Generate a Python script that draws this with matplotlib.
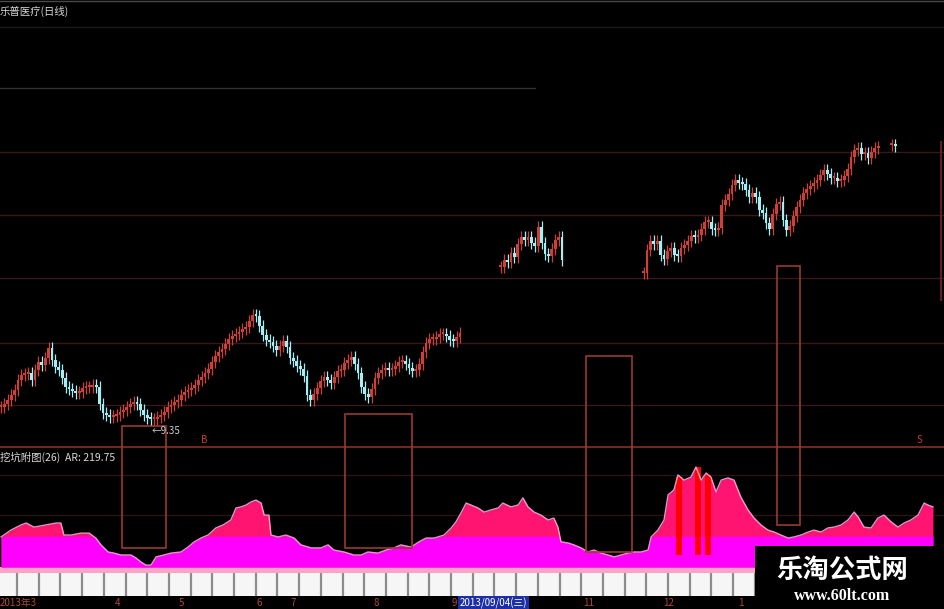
import numpy as np
import matplotlib
matplotlib.use("Agg")
import matplotlib.pyplot as plt
import matplotlib.transforms as mtransforms
from matplotlib.patches import Rectangle

plt.rcParams['font.family'] = ['Noto Sans CJK SC', 'DejaVu Sans']

nan = np.nan

# daily closes (trading day index 0..263), gaps where the screenshot shows nothing
closes = [
    10.25, 10.4, 10.6, 10.85, 11.1, 11.6, 11.85, 11.9, 11.95, 11.6,
    12.1, 12.5, 12.35, 12.7, 13.2, 12.6, 12.25, 12.1, 11.7, 11.25,
    11.15, 11.05, 10.95, 11.0, 11.2, 11.25, 11.25, 11.35, 11.25, 10.4,
    9.95, 9.85, 9.75, 9.8, 9.85, 10.0, 10.1, 10.25, 10.4, 10.5,
    10.4, 10.1, 9.85, 9.7, 9.65, 9.65, 9.75, 9.85, 10.0, 10.25,
    10.35, 10.5, 10.6, 10.85, 11.0, 11.1, 11.2, 11.35, 11.6, 11.75,
    11.95, 12.15, 12.5, 12.8, 13.0, 13.15, 13.4, 13.65, 13.8, 13.9,
    14.0, 14.15, 14.25, 14.55, 14.85, 14.8, 14.3, 13.85, 13.6, 13.5,
    13.3, 13.1, 13.3, 13.55, 13.25, 12.7, 12.55, 12.3, 12.15, 11.8,
    10.85, 10.6, 10.9, 11.2, 11.55, 11.75, 11.6, 11.45, 11.75, 12.05,
    12.1, 12.45, 12.6, 12.75, 12.4, 11.95, 11.25, 10.9, 10.75, 11.15,
    11.7, 11.95, 12.1, 12.2, 12.1, 12.15, 12.3, 12.5, 12.55, 12.4,
    12.2, 12.05, 12.1, 12.4, 13.0, 13.45, 13.65, 13.65, 13.75, 13.9,
    13.9, 13.8, 13.6, 13.55, 13.75, 13.95,
    nan, nan, nan, nan, nan, nan, nan, nan, nan, nan, nan,
    17.25, 17.6, 17.5, 17.95, 17.75, 18.4, 18.75, 18.6, 18.75, 18.45,
    18.3, 19.25, 18.45, 17.9, 17.8, 18.15, 18.6, 18.75, 17.6,
    nan, nan, nan, nan, nan, nan, nan, nan, nan, nan, nan, nan,
    nan, nan, nan, nan, nan, nan, nan, nan, nan, nan, nan,
    16.95, 18.1, 18.55, 18.4, 18.55, 17.85, 17.65, 18.05, 18.2, 17.85,
    17.8, 18.2, 18.35, 18.55, 18.8, 18.75, 18.85, 19.15, 19.5, 19.5,
    19.15, 19.1, 19.2, 20.35, 20.6, 20.9, 21.35, 21.6, 21.45, 21.4,
    21.1, 20.75, 20.95, 20.75, 20.1, 19.95, 19.45, 19.15, 19.9, 20.4,
    20.5, 19.6, 19.1, 19.3, 19.8, 20.25, 20.6, 20.95, 21.15, 21.3,
    21.45, 21.6, 21.85, 22.1, 21.9, 21.7, 21.7, 21.55, 21.6, 21.8,
    22.15, 22.75, 23.1, 23.2, 22.9, 22.95, 22.7, 23.0, 23.2, 23.25,
    nan, nan, nan,
    23.35, 23.3,
]

# AR indicator (sub panel), sampled along the trading-day axis
ar_days = [0, 2.9, 5.9, 7.4, 9.7, 13.2, 16.2, 17.6, 18.5, 20.6,
           23.5, 25.9, 27.9, 29.4, 31.5, 33.2, 35.3, 38.2, 39.7, 41.2,
           42.6, 44.1, 45.6, 47.9, 50.0, 52.9, 55.0, 56.8, 58.8, 60.9,
           63.2, 65.3, 67.6, 69.1, 70.6, 72.1, 73.5, 75.0, 76.5, 77.4,
           78.8, 79.4, 81.5, 83.8, 86.2, 88.2, 91.2, 94.1, 96.2, 97.9,
           100.9, 103.8, 105.9, 107.9, 110.9, 113.2, 115.6, 117.6, 120.6, 122.9,
           125.0, 127.4, 130.3, 132.4, 133.8, 135.3, 136.8, 138.2, 140.3, 142.1,
           144.1, 146.2, 147.6, 150.0, 152.1, 153.5, 155.0, 156.8, 158.8, 160.9,
           162.6, 163.8, 164.7, 166.8, 168.5, 170.6, 172.6, 174.4, 176.5, 178.5,
           180.3, 182.4, 184.4, 186.2, 188.2, 190.3, 191.2, 193.2, 195.0, 196.2,
           197.9, 199.1, 200.9, 202.9, 204.4, 205.9, 207.4, 208.8, 210.3, 211.8,
           213.8, 215.6, 217.6, 219.7, 221.5, 223.5, 225.6, 227.4, 229.4, 231.5,
           233.2, 235.3, 237.4, 239.1, 241.2, 243.2, 245.0, 247.1, 249.1, 250.9,
           252.1, 253.8, 255.9, 257.9, 259.7, 261.8, 263.8, 265.6, 267.6, 269.7,
           271.5, 272.6, 274.1]
ar_vals = [110, 135, 154, 161, 146, 154, 161, 161, 117, 117,
           124, 124, 106, 81, 55, 51, 44, 44, 33, 18,
           7, 7, 37, 44, 51, 55, 73, 92, 106, 117,
           143, 154, 172, 216, 220, 227, 238, 245, 234, 190,
           190, 117, 110, 117, 106, 81, 70, 70, 81, 62,
           55, 44, 44, 55, 51, 62, 70, 81, 73, 92,
           106, 106, 117, 143, 165, 198, 234, 227, 216, 201,
           209, 216, 234, 220, 227, 253, 220, 201, 190, 172,
           179, 146, 92, 88, 81, 70, 55, 62, 51, 44,
           37, 44, 51, 55, 55, 62, 110, 135, 172, 264,
           282, 337, 318, 329, 366, 318, 344, 329, 275, 318,
           326, 318, 256, 209, 179, 154, 135, 128, 117, 106,
           110, 117, 128, 135, 128, 143, 146, 154, 172, 201,
           183, 146, 143, 179, 190, 165, 146, 161, 172, 190,
           234, 227, 220]
ar_threshold = 113
ar_last = 219.75

red_days = [199.4, 205.0, 208.0]
red_tops = [329, 366, 337]
red_bottom = 44

# user-drawn zones: (day from, day to, price low, price high)
zone_boxes = [(35.6, 48.5, 3.2, 9.3), (101.2, 120.9, 3.2, 9.9),
              (172.0, 185.6, 3.0, 12.8), (228.2, 235.0, 4.35, 17.3)]
signals = [(59.7, 'B'), (270.0, 'S')]

month_days = [34.4, 52.9, 75.9, 85.9, 110.3, 133.2, 172.9, 196.2, 217.6]
month_labels = ['4', '5', '6', '7', '8', '9', '11', '12', '1']
first_label = '2013年3'
cursor_day = 144.8
cursor_label = '2013/09/04(三)'

UP = '#cc4038'
DOWN = '#a6eef4'
WICK = 0.3

fig = plt.figure(figsize=(9.45, 6.09), dpi=100, facecolor='black')

# background frame in pixel units
bg = fig.add_axes([0, 0, 1, 1])
bg.set_xlim(0, 945)
bg.set_ylim(609, 0)
bg.set_facecolor('black')
bg.axis('off')
bg.axhline(0.8, color='#4a4a4a', lw=1)
bg.axhline(27, color='#1a1a1a', lw=1)
bg.plot([0, 535], [88, 88], color='#333333', lw=1)
for gy in [152, 215, 278, 343, 405]:
    bg.axhline(gy, color='#361818', lw=1)
bg.axhline(447, color='#7c2c24', lw=1.3)
for gy in [475, 515]:
    bg.axhline(gy, color='#2a1414', lw=1)
bg.plot([941, 941], [142, 300], color='#5a1e1e', lw=1.5)
bg.add_patch(Rectangle((0, 567), 945, 6, color='#ffa4c4', lw=0))
bg.add_patch(Rectangle((0, 573), 945, 23, color='#f6f6f6', lw=0))
bg.vlines(np.arange(17, 945, 21.7), 573, 596, color='#8c8c8c', lw=1.6)
bg.text(0, 11, '乐普医疗(日线)', color='#d8d8d8', fontsize=7.5, va='center', ha='left')
bg.text(0, 457, '挖坑附图(26)  AR: %.2f' % ar_last, color='#d8d8d8', fontsize=7.5,
        va='center', ha='left')

# price panel
ax = fig.add_axes([0, 162 / 609, 1, 447 / 609])
ax.set_zorder(3)
ax.set_facecolor('none')
ax.axis('off')
ax.set_xlim(-0.3, 277.64)
ax.set_ylim(8.25, 30.6)

c = np.array(closes, dtype=float)
days = np.arange(len(c))
o = np.concatenate([[nan], c[:-1]])
o = np.where(np.isnan(o), c, o)
hi = np.maximum(o, c) + WICK
lo = np.minimum(o, c) - WICK
ok = ~np.isnan(c)
cols = np.where(c >= o, UP, DOWN)
body = np.maximum(np.abs(c - o), 0.1)
ax.vlines(days[ok], lo[ok], hi[ok], colors=cols[ok], lw=0.9)
ax.bar(days[ok], body[ok], bottom=np.minimum(o, c)[ok], width=0.8, color=cols[ok], lw=0)

low_day = int(np.nanargmin(lo))
ax.annotate('←%.2f' % lo[low_day], xy=(low_day, lo[low_day]), xytext=(1, -4),
            textcoords='offset points', color='#cfcfcf', fontsize=7, va='center', ha='left')

for d0, d1, p0, p1 in zone_boxes:
    ax.add_patch(Rectangle((d0, p0), d1 - d0, p1 - p0, fill=False, ec='#983a30',
                           lw=1.2, clip_on=False))
for sd, st in signals:
    ax.text(sd, 8.6, st, color='#c83a30', fontsize=7, ha='center', va='center')

# indicator panel: pink above the threshold, magenta below it
ai = fig.add_axes([0, 42 / 609, 1, 120 / 609])
ai.set_zorder(2)
ai.set_facecolor('none')
ai.axis('off')
ai.set_xlim(-0.3, 277.64)
ai.set_ylim(0, 439.2)
ad = np.array(ar_days)
av = np.array(ar_vals, dtype=float)
ai.fill_between(ad, 0, av, color='#ff1472', lw=0)
ai.fill_between(ad, 0, np.minimum(av, ar_threshold), color='#ff00ff', lw=0)
ai.plot(ad, av, color='#ffb4e4', lw=1.0, alpha=0.85)
ai.bar(red_days, np.array(red_tops) - red_bottom, bottom=red_bottom, width=1.7,
       color='#ff0000', lw=0)

# date labels under the cells
trans = mtransforms.blended_transform_factory(ax.transData, bg.transData)
bg.text(0, 603, first_label, color='#b04a35', fontsize=7, ha='left', va='center')
for md, ml in zip(month_days, month_labels):
    bg.text(md, 603, ml, transform=trans, color='#b04a35', fontsize=7,
            ha='center', va='center')
bg.text(cursor_day, 603, cursor_label, transform=trans, color='white', fontsize=7,
        ha='center', va='center',
        bbox=dict(boxstyle='square,pad=0.15', fc='#1c2fa8', ec='none'))

# watermark
wm = fig.add_axes([755 / 945, 0, 190 / 945, 63 / 609])
wm.set_zorder(10)
wm.set_facecolor('black')
wm.set_xlim(0, 1)
wm.set_ylim(0, 1)
wm.set_xticks([])
wm.set_yticks([])
for s in wm.spines.values():
    s.set_visible(False)
wm.text(0.46, 0.62, '乐淘公式网', color='white', fontsize=19, fontweight='bold',
        ha='center', va='center')
wm.text(0.46, 0.2, 'www.60lt.com', color='white', fontsize=11.5, fontweight='bold',
        family='Liberation Serif', ha='center', va='center')

fig.savefig('out.png', dpi=100, facecolor='black')
